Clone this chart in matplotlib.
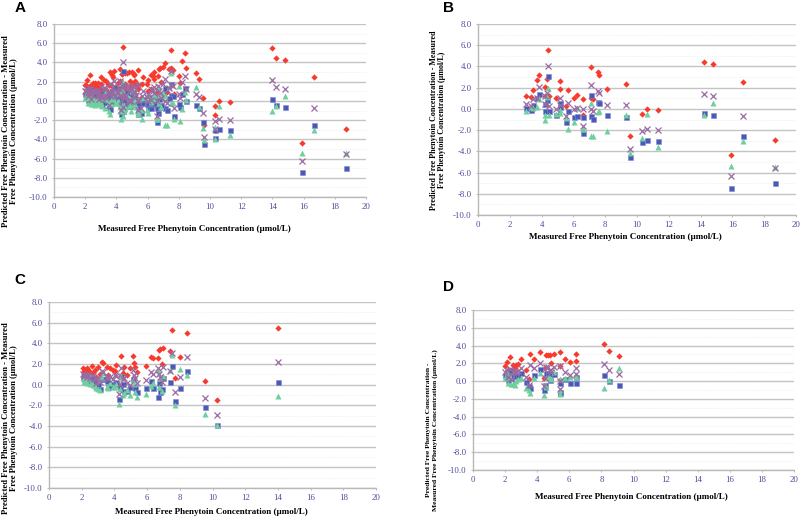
import matplotlib
matplotlib.use("Agg")
import matplotlib.pyplot as plt
import numpy as np

# ---- data (x = measured free phenytoin, y = predicted - measured) ----
# panel B patients
b_x = [3.04, 3.35, 3.46, 3.73, 3.83, 4.21, 4.21, 4.33, 4.40, 4.46, 4.90, 5.13, 5.13, 5.55,
       5.63, 6.01, 6.22, 6.62, 6.62, 7.12, 7.12, 7.23, 7.52, 7.64, 8.10, 9.32, 9.59, 10.32,
       10.60, 11.31, 14.20, 14.80, 15.92, 16.69, 18.70]
b_red = [1.17, 1.10, 1.77, 2.68, 3.15, 2.05, 1.20, 2.77, 5.59, 1.24, 1.00, 2.65, 1.86, 0.27,
         1.80, 1.02, 1.27, 0.89, -0.60, 3.99, 1.05, 0.95, 3.46, 3.20, 1.90, 2.30, -2.52, -0.52,
         0.00, -0.08, 4.44, 4.25, -4.33, 2.49, -2.90]
b_purple = [0.48, 0.30, 0.90, 1.00, 2.08, 1.20, 0.50, 1.50, 4.06, 0.27, -0.05, 1.00, 0.40, -0.70,
            0.52, -0.05, 0.10, -0.05, -1.60, 2.27, -0.05, -0.20, 1.65, 1.52, 0.33, 0.39, -3.77, -2.11,
            -1.86, -1.96, 1.43, 1.20, -6.28, -0.70, -5.53]
b_green = [-0.20, 0.17, 0.10, 0.20, 0.95, -0.61, -1.05, 1.10, 2.00, -0.60, -0.45, -0.10, -0.36, -0.90,
           -1.86, -1.24, 0.08, -1.86, -1.90, 0.55, -2.55, -2.55, -0.25, -0.23, -2.08, -0.61, -4.12, -2.74,
           -0.49, -3.58, -0.55, 0.52, -5.40, -3.05, -5.44]
b_blue = [0.08, -0.10, 0.39, 0.99, 1.42, 0.49, -0.20, 0.80, 3.12, -0.23, -0.55, 0.52, 0.20, -1.27,
          -0.17, -0.77, -0.70, -0.77, -2.24, 1.30, -0.70, -0.99, 0.61, 0.52, -0.61, -0.77, -4.50, -3.08,
          -2.90, -3.05, -0.39, -0.61, -7.44, -2.55, -7.03]

# panel C patients
c_x = [2.08, 2.15, 2.22, 2.30, 2.34, 2.40, 2.50, 2.61, 2.71, 2.81, 2.90, 3.02, 3.10, 3.22, 3.33,
       3.53, 3.63, 3.73, 3.93, 4.04, 4.10, 4.30, 4.34, 4.38, 4.50, 4.58, 4.80, 4.95, 5.12, 5.20,
       5.28, 5.40, 5.93, 6.24, 6.34, 6.65, 6.70, 6.79, 6.89, 6.99, 7.40, 7.50, 7.71, 8.01, 8.42,
       9.52, 10.30, 14.00]
c_red = [1.63, 1.30, 1.40, 1.50, 1.57, 1.40, 1.20, 1.83, 1.10, 1.40, 0.70, 1.73, 1.00, 2.22, 2.05,
         1.67, 0.90, 1.57, 1.40, 1.30, 1.90, -0.13, 0.70, 2.76, 1.15, 1.73, 0.93, 1.57, 2.76, 2.12,
         1.67, 1.22, 1.80, 2.70, 2.57, 2.57, 3.34, 3.44, 2.00, 3.57, 3.28, 5.26, 0.67, 2.63, 5.03,
         0.32, -1.48, 5.46]
c_purple = [1.03, 0.80, 0.90, 0.90, 0.70, 0.93, 0.60, 0.80, 0.93, 0.50, 0.20, 0.60, 0.30, 1.30, 1.25,
            0.70, 0.50, 0.77, 0.50, 0.93, 0.80, -0.93, 0.10, 1.57, 0.50, 0.60, 0.13, 0.00, 1.40, 0.90,
            0.60, 0.13, 0.45, 1.25, 1.00, 1.57, 1.00, 0.77, 0.30, 1.73, 1.31, 3.08, -0.74, 0.74, 2.63,
            -1.25, -2.96, 2.15]
c_green = [0.60, 0.30, 0.45, 0.50, 0.20, 0.60, 0.10, 0.20, 0.00, -0.13, -0.30, -0.45, -0.50, 0.60, 1.10,
           -0.20, -0.30, 0.20, -0.20, -0.20, 0.10, -1.87, -0.40, 0.80, -1.00, -0.83, -0.50, -1.00, 0.45, 0.10,
           -0.67, -1.15, -0.93, -0.13, 0.20, 1.40, -0.20, 0.60, -0.60, 0.87, 1.40, 2.86, -1.93, 1.54, 0.96,
           -2.85, -3.92, -1.10]
c_blue = [0.70, 0.50, 0.50, 0.30, 0.35, 0.45, 0.30, 0.60, 0.40, 0.30, -0.10, 0.00, -0.40, 0.50, 0.57,
          0.40, -0.20, 0.00, 0.10, 0.20, 0.30, -1.36, -0.20, 0.83, 0.10, -0.58, -0.58, -0.20, 0.57, -0.20,
          -0.30, -0.67, -0.29, 0.38, -0.35, -1.22, 0.19, -0.67, -0.45, 0.67, 0.29, 1.80, -1.55, -0.29, 1.31,
          -2.16, -3.86, 0.22]

# panel D patients
d_x = [1.99, 2.14, 2.20, 2.28, 2.35, 2.49, 2.60, 2.70, 2.80, 3.01, 3.28, 3.50, 3.57, 3.78, 4.20,
       4.40, 4.49, 4.57, 4.67, 4.78, 4.88, 5.03, 5.40, 5.40, 5.40, 5.73, 6.02, 6.40, 6.40, 8.18,
       8.47, 9.08]
d_red = [1.70, 2.18, 1.20, 2.70, 1.00, 1.84, 1.50, 1.80, 1.87, 2.47, 1.25, 0.20, 3.00, 2.45, 3.31,
         0.30, 1.43, 2.90, 2.94, 2.97, 2.07, 3.05, 3.23, 1.70, 0.10, 2.47, 2.18, 3.00, 2.25, 4.17,
         3.39, 2.86]
d_purple = [1.06, 1.20, 0.50, 1.35, 0.20, 1.00, 1.06, 1.00, 1.10, 1.43, 0.50, -0.40, 1.80, 1.43, 2.06,
            -0.60, 0.30, 1.60, 1.60, 1.30, 1.00, 1.60, 1.70, 0.00, -0.90, 1.06, 0.69, 1.43, 0.80, 1.92,
            1.25, 0.76]
d_green = [0.30, 0.90, -0.20, 0.50, -0.30, -0.35, -0.40, 0.00, 0.20, 0.30, -0.75, -1.00, -1.38, 0.30, 0.90,
           -1.55, -0.40, -0.62, 0.50, 0.30, 0.20, 1.06, 0.20, -1.00, -1.40, 0.30, 0.50, 0.69, 0.50, -0.82,
           0.12, 1.43]
d_blue = [0.68, 1.00, 0.10, 1.25, 0.30, 0.55, 0.60, 0.60, 0.70, 0.87, -0.07, -0.50, -0.82, 0.69, 1.31,
          -1.00, -0.44, 0.87, 0.90, 0.12, 0.80, 0.75, -0.25, -1.38, -1.20, 0.20, -0.18, 0.43, -0.18, 0.69,
          0.00, -0.44]

# panel A shows all patients (B + C + D)
a_x = b_x + c_x + d_x
a_red = b_red + c_red + d_red
a_purple = b_purple + c_purple + d_purple
a_green = b_green + c_green + d_green
a_blue = b_blue + c_blue + d_blue

x_ticks = list(range(0, 21, 2))
y_ticks = list(range(-10, 9, 2))

SERIF = ['Liberation Serif', 'DejaVu Serif']
TICK_COLOR = '#4a4a9a'

YLAB_2 = 'Predicted Free Phenytoin Concentration - Measured\nFree Phenytoin Concentration (\u00b5mol/L)'
YLAB_D = 'Predicted Free Phenytoin Concentration -\nMeasured Free Phenytoin Concentration (\u00b5mol/L)'
XLAB = 'Measured Free Phenytoin Concentration (\u00b5mol/L)'

fig = plt.figure(figsize=(8, 5.19), dpi=100)
fig.patch.set_facecolor('white')


def draw_panel(rect, xs, red, purple, green, blue):
    ax = fig.add_axes(rect)
    ax.set_xlim(0, 20)
    ax.set_ylim(-10, 8)
    # grid lines
    for v in y_ticks:
        ax.axhline(v, color='#c4c4c4', lw=1.0, zorder=0)
    for v in range(-9, 8, 2):
        ax.axhline(v, color='#e2e2e2', lw=0.5, ls=(0, (1, 2)), zorder=0)
    ax.plot(xs, red, ls='none', marker='D', ms=3.2, color='#f8392b', mec='none', zorder=3)
    ax.plot(xs, blue, ls='none', marker='s', ms=3.6, color='#4a58b6', mec='#7f8ad0', mew=0.4, zorder=4)
    ax.plot(xs, green, ls='none', marker='^', ms=3.8, color='#6fcf9f', mec='none', zorder=5)
    ax.plot(xs, purple, ls='none', marker='x', ms=3.8, color='#9a6aa2', mew=0.9, zorder=6)
    ax.set_xticks(x_ticks)
    ax.set_yticks(y_ticks)
    ax.set_yticklabels(['%.1f' % v for v in y_ticks])
    for lab in ax.get_xticklabels() + ax.get_yticklabels():
        lab.set_family(SERIF)
        lab.set_fontsize(6.3)
        lab.set_color(TICK_COLOR)
    ax.tick_params(length=1.5, width=0.6, color='#b0b0b0', pad=3)
    ax.tick_params(axis='x', pad=2.5)
    for s in ['top', 'right']:
        ax.spines[s].set_visible(False)
    for s in ['left', 'bottom']:
        ax.spines[s].set_color('#b8b8b8')
        ax.spines[s].set_linewidth(1.0)
    return ax


W, H = 800.0, 519.0


def rect(x0, x1, y0, y1):
    return [x0 / W, 1 - y1 / H, (x1 - x0) / W, (y1 - y0) / H]


draw_panel(rect(54, 366, 24, 197), a_x, a_red, a_purple, a_green, a_blue)
draw_panel(rect(478, 796, 24, 215), b_x, b_red, b_purple, b_green, b_blue)
draw_panel(rect(49, 376, 302, 488), c_x, c_red, c_purple, c_green, c_blue)
draw_panel(rect(473, 794, 310, 470), d_x, d_red, d_purple, d_green, d_blue)

# panel letters
for letter, px, py in [('A', 20, 8), ('B', 449, 8), ('C', 20, 280), ('D', 449, 287)]:
    fig.text(px / W, 1 - py / H, letter, fontsize=11, fontweight='bold',
             family=['Liberation Sans', 'DejaVu Sans'], ha='center', va='center')

# y labels (text, x centre, y centre, font size)
for txt, px, py, fs in [(YLAB_2, 10, 131, 6.2), (YLAB_2, 438, 120, 5.8),
                        (YLAB_2, 10, 418, 6.2), (YLAB_D, 432, 430, 5.4)]:
    fig.text(px / W, 1 - py / H, txt, rotation=90, fontsize=fs, fontweight='bold',
             family=SERIF, ha='center', va='center', linespacing=1.05, multialignment='center')

# x labels
for px, py in [(194, 229), (625, 237), (211, 512), (631, 497)]:
    fig.text(px / W, 1 - py / H, XLAB, fontsize=6.5, fontweight='bold',
             family=SERIF, ha='center', va='center')

fig.savefig('out.png', dpi=100)
